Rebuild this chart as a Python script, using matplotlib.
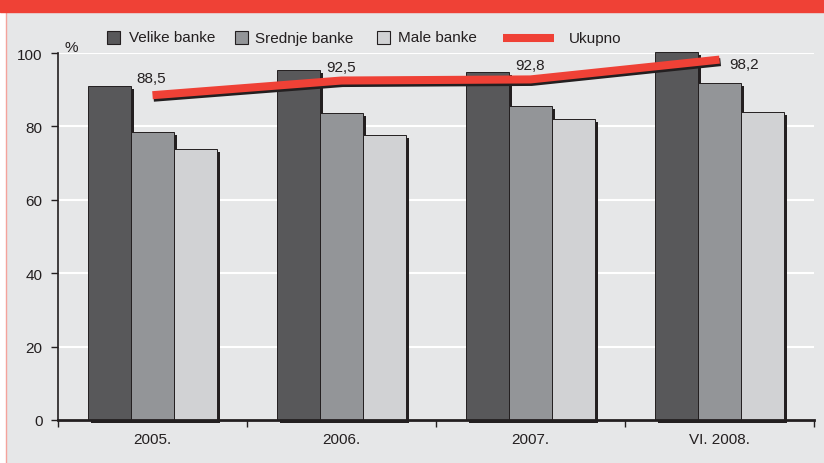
import matplotlib
matplotlib.use("Agg")
import matplotlib.pyplot as plt
import matplotlib.patheffects as pe
from matplotlib.patches import Rectangle
from matplotlib.lines import Line2D
import numpy as np

plt.rcParams['font.family'] = ['Liberation Sans', 'DejaVu Sans']

# data
years   = ['2005.', '2006.', '2007.', 'VI. 2008.']
velike  = [91.0, 95.3, 94.8, 100.3]
srednje = [78.5, 83.6, 85.6, 91.8]
male    = [73.8, 77.7, 82.0, 83.9]
ukupno  = [88.5, 92.5, 92.8, 98.2]
ukupno_lbl = ['88,5', '92,5', '92,8', '98,2']
series_names = ['Velike banke', 'Srednje banke', 'Male banke', 'Ukupno']

BG = '#e6e7e8'
INK = '#231f20'
RED = '#ef4136'
cols = ['#58585a', '#939598', '#d1d2d4']

W, H = 824, 464
fig = plt.figure(figsize=(W / 100, H / 100), dpi=100, facecolor=BG)

# frame decorations: white strip + pale red line on the left, red band on top
fig.patches.append(Rectangle((0, 0), 5 / W, 1, transform=fig.transFigure,
                             color='white', zorder=0))
fig.lines.append(Line2D([5.5 / W, 5.5 / W], [0, 1], transform=fig.transFigure,
                        color='#f4a39c', lw=1.0))
fig.patches.append(Rectangle((0, 1 - 13 / H), 1, 13 / H, transform=fig.transFigure,
                             color=RED, zorder=5))

ax = fig.add_axes([58 / W, 1 - 421 / H, (814 - 58) / W, (421 - 54) / H])
ax.set_facecolor(BG)

x = np.arange(len(years))
w = 0.2275
shadow = [pe.SimplePatchShadow(offset=(2.2, -2.2), shadow_rgbFace=INK, alpha=1.0),
          pe.Normal()]
for k, vals in enumerate([velike, srednje, male]):
    bars = ax.bar(x + (k - 1) * w, vals, width=w, color=cols[k],
                  edgecolor=INK, linewidth=0.7, zorder=3, clip_on=False)
    for b in bars:
        b.set_path_effects(shadow)

ax.plot(x, ukupno, color=RED, lw=5.8, solid_capstyle='butt', zorder=5,
        path_effects=[pe.SimpleLineShadow(offset=(0.8, -1.8), shadow_color=INK, alpha=1.0),
                      pe.Normal()])

offs = [(-1, 12.5), (0, 10), (0, 10.5), (7, -3.5)]
for i, (v, t) in enumerate(zip(ukupno, ukupno_lbl)):
    ha = 'left' if i == len(ukupno) - 1 else 'center'
    ax.annotate(t, (x[i], v), xytext=offs[i], textcoords='offset points',
                ha=ha, va='center', fontsize=11, color=INK, zorder=6)

ax.set_xlim(-0.5, len(years) - 0.5)
ax.set_ylim(0, 100)
ax.set_yticks(np.arange(0, 101, 20))
ax.set_xticks(np.arange(-0.5, len(years), 1.0))
ax.set_xticklabels([])
ax.set_xticks(x, minor=True)
ax.set_xticklabels(years, minor=True)
ax.tick_params(axis='x', which='major', direction='out', length=5, width=1, color=INK)
ax.tick_params(axis='x', which='minor', length=0, pad=9, labelsize=11, labelcolor=INK)
ax.tick_params(axis='y', direction='out', length=5, width=1, color=INK, pad=6,
               labelsize=11, labelcolor=INK)
ax.yaxis.grid(True, color='white', lw=1.5, zorder=0)
ax.set_axisbelow(True)
for s in ['top', 'right']:
    ax.spines[s].set_visible(False)
ax.spines['left'].set_color(INK)
ax.spines['left'].set_linewidth(1.2)
ax.spines['bottom'].set_color(INK)
ax.spines['bottom'].set_linewidth(2)
ax.spines['bottom'].set_zorder(4)

fig.text(71 / W, 1 - 48 / H, '%', ha='center', va='center', fontsize=11, color=INK)

# legend row
ly = 1 - 38.5 / H
sq = [(107, 129), (235, 255), (377, 398)]
for k in range(3):
    x0, tx = sq[k]
    fig.patches.append(Rectangle((x0 / W, ly - 6.5 / H), 13 / W, 13 / H,
                                 transform=fig.transFigure, facecolor=cols[k],
                                 edgecolor=INK, lw=0.8))
    fig.text(tx / W, ly, series_names[k], ha='left', va='center', fontsize=11, color=INK)
fig.lines.append(Line2D([503 / W, 554 / W], [ly, ly], transform=fig.transFigure,
                        color=RED, lw=5.8, solid_capstyle='butt'))
fig.text(569 / W, ly, series_names[3], ha='left', va='center', fontsize=11, color=INK)

fig.savefig('out.png', dpi=100, facecolor=BG)
